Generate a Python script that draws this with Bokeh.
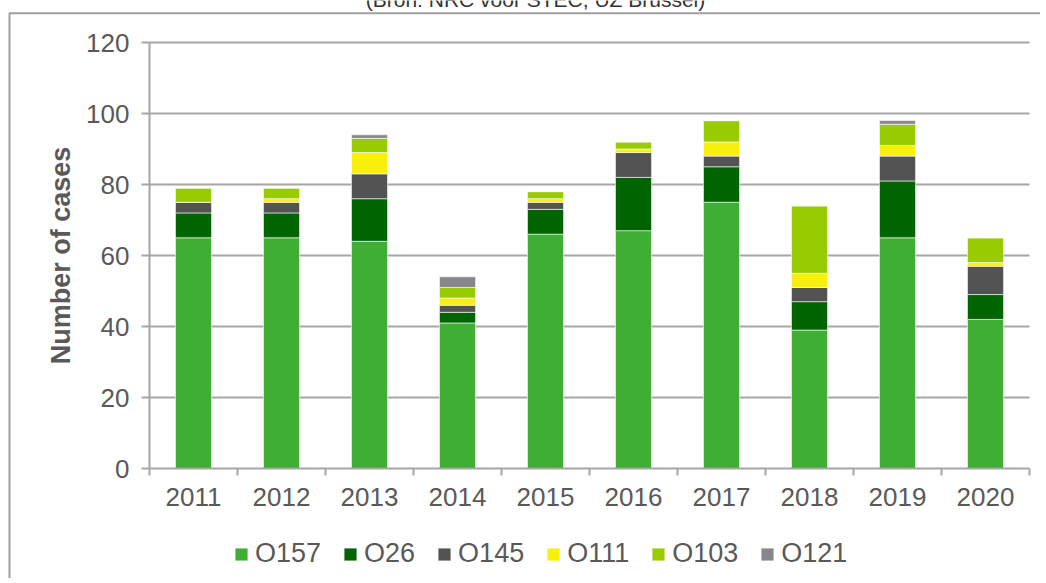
from bokeh.plotting import figure
from bokeh.models import Range1d, FixedTicker, Legend, LegendItem, Label, BoxAnnotation, ColumnDataSource
from bokeh.embed import file_html
from bokeh.resources import INLINE

# ---- data ----
years = ["2011", "2012", "2013", "2014", "2015", "2016", "2017", "2018", "2019", "2020"]
O157 = [65, 65, 64, 41, 66, 67, 75, 39, 65, 42]
O26 = [7, 7, 12, 3, 7, 15, 10, 8, 16, 7]
O145 = [3, 3, 7, 2, 2, 7, 3, 4, 7, 8]
O111 = [0, 1, 6, 2, 1, 1, 4, 4, 3, 1]
O103 = [4, 3, 4, 3, 2, 2, 6, 19, 6, 7]
O121 = [0, 0, 1, 3, 0, 0, 0, 0, 1, 0]
serotypes = ["O157", "O26", "O145", "O111", "O103", "O121"]
y_ticks = [0, 20, 40, 60, 80, 100, 120]
y_label = "Number of cases"
source_note = "(Bron: NRC voor STEC, UZ Brussel)"

# ---- style / layout ----
colors = ["#3FAE35", "#006400", "#535353", "#F8F00C", "#99CC00", "#87878B"]
FONT = "Liberation Sans"
TXT = "#595959"
GRID = "#A6A6A6"
W, H = 1040, 578
PLOT_L, PLOT_R = 149, 1029      # canvas px of the plot area
PLOT_T, PLOT_B = 42, 468

n = len(years)
ymax = y_ticks[-1]
xs = (PLOT_R - PLOT_L) / n
ys = (PLOT_B - PLOT_T) / ymax
x_range = Range1d(-PLOT_L / xs, n + (W - PLOT_R) / xs)
y_range = Range1d(-(H - PLOT_B) / ys, ymax + PLOT_T / ys)


def px_x(px):
    return (px - PLOT_L) / xs


def px_y(py):
    return (PLOT_B - py) / ys


src = ColumnDataSource(dict(
    x=[i + 0.5 for i in range(n)],
    O157=O157, O26=O26, O145=O145, O111=O111, O103=O103, O121=O121,
))

p = figure(width=W, height=H, x_range=x_range, y_range=y_range,
           output_backend="svg", toolbar_location=None,
           min_border=0, min_border_left=0, min_border_right=0, min_border_top=0, min_border_bottom=0)
p.outline_line_color = None
p.background_fill_color = "white"
p.border_fill_color = "white"
p.xgrid.visible = False
p.ygrid.visible = False

# outer chart-area border (only its top and left edges fall inside the picture)
p.add_layout(BoxAnnotation(left=px_x(9), right=px_x(W + 60), top=px_y(12.7), bottom=px_y(H + 60),
                           fill_alpha=0, line_color="#A0A0A0", line_alpha=1.0, line_dash="solid",
                           line_width=2, level="underlay"))

# horizontal gridlines (plot area only)
grid_src = ColumnDataSource(dict(y=y_ticks[1:], x0=[0] * (len(y_ticks) - 1), x1=[n] * (len(y_ticks) - 1)))
p.segment(x0="x0", x1="x1", y0="y", y1="y", source=grid_src, line_color=GRID, line_width=2)

renderers = p.vbar_stack(serotypes, x="x", width=0.41, source=src,
                         fill_color=colors, line_color="white", line_width=1, line_alpha=0.6)

# x axis
xa = p.xaxis[0]
xa.fixed_location = 0
xa.bounds = (0, n)
xa.ticker = FixedTicker(ticks=[i + 0.5 for i in range(n)], minor_ticks=list(range(n + 1)))
xa.major_label_overrides = {i + 0.5: y for i, y in enumerate(years)}
xa.major_tick_line_color = None
xa.major_tick_out = 0
xa.major_tick_in = 0
xa.minor_tick_out = 7
xa.minor_tick_in = 0
xa.minor_tick_line_color = GRID
xa.minor_tick_line_width = 2
xa.axis_line_color = GRID
xa.axis_line_width = 2
xa.major_label_standoff = 12
xa.major_label_text_font = FONT
xa.major_label_text_font_size = "26px"
xa.major_label_text_color = TXT

# y axis
ya = p.yaxis[0]
ya.fixed_location = 0
ya.bounds = (0, ymax)
ya.ticker = FixedTicker(ticks=y_ticks)
ya.major_tick_out = 8
ya.major_tick_in = 0
ya.minor_tick_line_color = None
ya.major_tick_line_color = GRID
ya.major_tick_line_width = 2
ya.axis_line_color = GRID
ya.axis_line_width = 2
ya.major_label_standoff = 12
ya.major_label_text_font = FONT
ya.major_label_text_font_size = "26px"
ya.major_label_text_color = TXT
ya.axis_label = y_label
ya.axis_label_text_font = FONT
ya.axis_label_text_font_size = "27px"
ya.axis_label_text_font_style = "bold"
ya.axis_label_text_color = TXT
ya.axis_label_standoff = 7

# legend
legend = Legend(items=[LegendItem(label=s, renderers=[r]) for s, r in zip(serotypes, renderers)],
                orientation="horizontal", location=(233, H - 569),
                glyph_width=16, glyph_height=16, label_standoff=6, spacing=21,
                padding=0, margin=0, label_text_font=FONT, label_text_font_size="27px",
                label_text_color=TXT, background_fill_alpha=0, border_line_alpha=0)
p.add_layout(legend, "center")

# source note, cut off at the top edge as in the reference
p.add_layout(Label(x=535, y=H + 1.5, x_units="screen", y_units="screen", text=source_note,
                   text_align="center", text_baseline="alphabetic", text_font=FONT,
                   text_font_size="21px", text_color="#333333"))

open("out.html", "w").write(file_html(p, INLINE))
